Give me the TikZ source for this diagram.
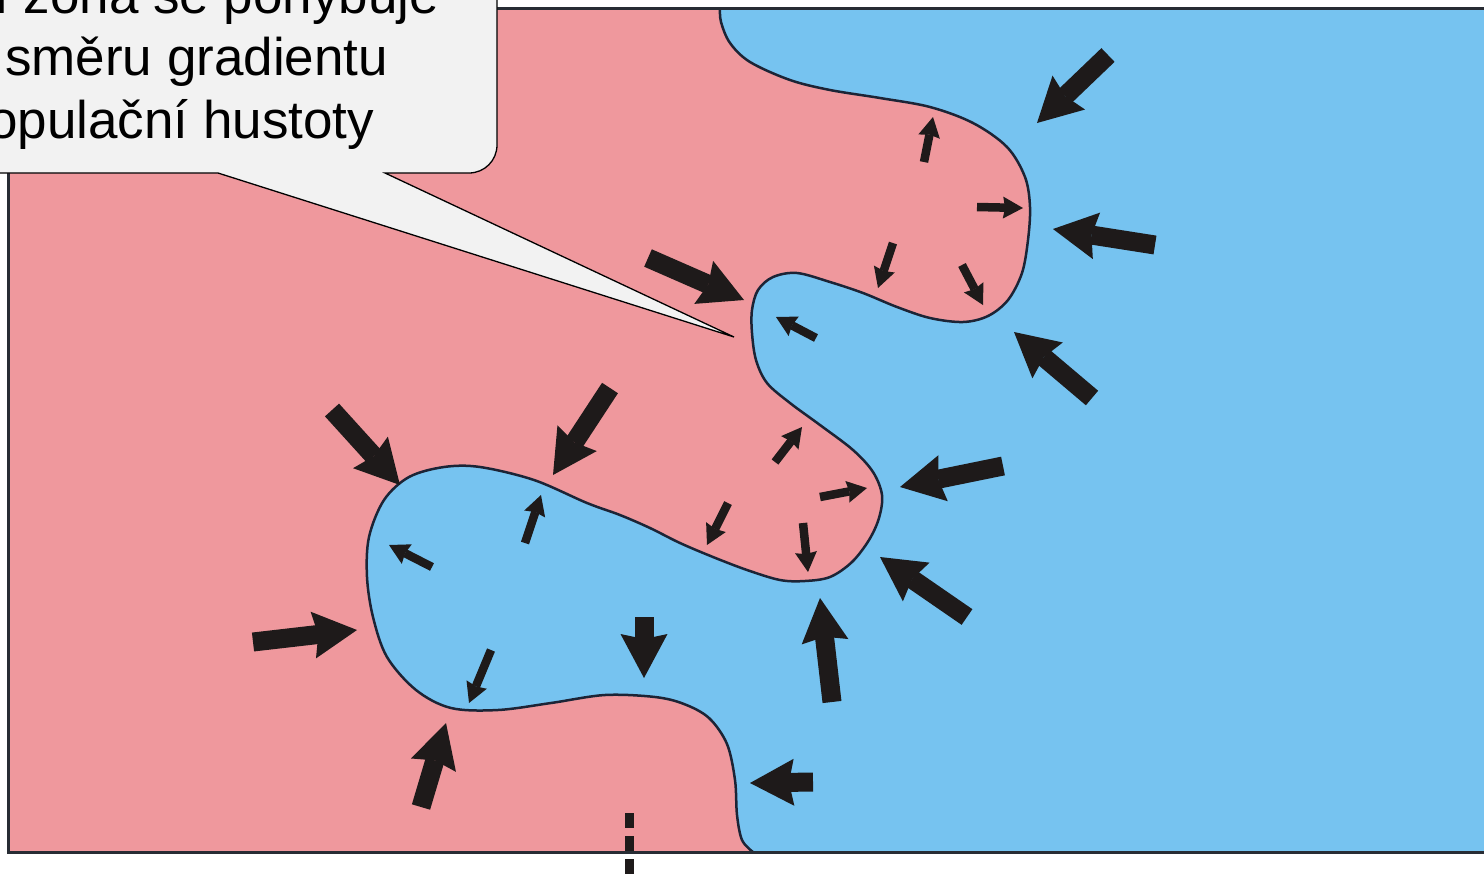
\documentclass[tikz,border=0pt]{standalone}
\usepackage{fontspec}
\setmainfont{Liberation Sans}
\usetikzlibrary{arrows.meta}
\definecolor{zonepink}{RGB}{239,152,157}
\definecolor{zoneblue}{RGB}{118,195,240}
\definecolor{edgeline}{RGB}{28,36,54}
\definecolor{framegray}{RGB}{40,44,52}
\definecolor{arrowblk}{RGB}{30,26,26}
\definecolor{calloutfill}{RGB}{242,242,242}
\newcommand{\calloutfont}{\fontsize{53pt}{63pt}\selectfont}
\begin{document}
\begin{tikzpicture}[x=1pt,y=-1pt,
  bigarrow/.style={draw=arrowblk, line width=19pt, line cap=butt,
    -{Stealth[length=44pt,width=47pt,inset=5pt,line width=0pt]}},
  smallarrow/.style={draw=arrowblk, line width=8.5pt, line cap=butt,
    -{Stealth[length=20pt,width=22pt,inset=2pt,line width=0pt]}},
  zoneedge/.style={draw=edgeline, line width=2.5pt},
  framestyle/.style={draw=framegray, line width=3pt},
  calloutbox/.style={fill=calloutfill, draw=black, line width=1.3pt},
  callouttext/.style={anchor=base west, inner sep=0pt, font=\calloutfont, text=black}]
\useasboundingbox (0,0) rectangle (1484,879);
\clip (0,0) rectangle (1484,879);

% zones
\fill[zonepink] (8,8) rectangle (1490,852);
\def\edgepts{(720,8) (721,22) (730,43) (750,62) (790,80) (830,90) (880,98) (930,107) (973,123) (1007,147) (1025,177) (1030,207) (1028,240) (1022,273) (1008,300) (988,316) (963,322) (930,318) (897,307) (863,293) (830,282) (797,273) (773,277) (758,290) (752,310) (752,333) (756,360) (767,383) (790,403) (820,425) (853,450) (873,472) (882,495) (879,518) (869,540) (852,562) (830,577) (805,581) (780,580) (747,570) (713,557) (680,543) (650,528) (620,515) (587,503) (534,480) (480,467) (444,467) (409,477) (384,500) (369,537) (367,577) (373,617) (387,657) (416,690) (451,708) (498,710) (551,703) (605,695) (655,697) (684,704) (709,718) (727,744) (735,780) (737,815) (742,840) (753,852)}
\fill[zoneblue] plot[smooth,tension=0.55] coordinates {\edgepts} -- (1490,852) -- (1490,8) -- cycle;
\draw[zoneedge] plot[smooth,tension=0.55] coordinates {\edgepts};

% frame
\draw[framestyle] (1490,8) -- (8,8) -- (8,852) -- (1490,852);

% big arrows
\coordinate (a1t) at (1108,55);  \coordinate (a1h) at (1037,123);
\coordinate (a2t) at (1155,245); \coordinate (a2h) at (1053,229);
\coordinate (a3t) at (1092,398); \coordinate (a3h) at (1014,332);
\coordinate (a4t) at (648,258);  \coordinate (a4h) at (744,300);
\coordinate (a14t) at (1003,466); \coordinate (a14h) at (900,487);
\coordinate (a15t) at (967,617); \coordinate (a15h) at (880,557);
\coordinate (a16t) at (832,702); \coordinate (a16h) at (820,598);
\coordinate (a17t) at (332,410); \coordinate (a17h) at (400,485);
\coordinate (a18t) at (610,388); \coordinate (a18h) at (553,475);
\coordinate (a21t) at (253,642); \coordinate (a21h) at (357,630);
\coordinate (a23t) at (644,617); \coordinate (a23h) at (644,678);
\coordinate (a24t) at (421,807); \coordinate (a24h) at (446,723);
\coordinate (a27t) at (813,782); \coordinate (a27h) at (750,783);
\foreach \n in {1,2,3,4,14,15,16,17,18,21,23,24,27}
  \draw[bigarrow] (a\n t) -- (a\n h);

% small arrows
\coordinate (b5t) at (816,338);  \coordinate (b5h) at (776,317);
\coordinate (b6t) at (924,162);  \coordinate (b6h) at (933,117);
\coordinate (b7t) at (977,207);  \coordinate (b7h) at (1023,208);
\coordinate (b8t) at (893,243);  \coordinate (b8h) at (878,288);
\coordinate (b9t) at (962,265);  \coordinate (b9h) at (983,305);
\coordinate (b10t) at (775,462); \coordinate (b10h) at (802,427);
\coordinate (b11t) at (820,497); \coordinate (b11h) at (867,488);
\coordinate (b12t) at (728,503); \coordinate (b12h) at (707,545);
\coordinate (b13t) at (803,523); \coordinate (b13h) at (808,572);
\coordinate (b19t) at (525,543); \coordinate (b19h) at (541,495);
\coordinate (b20t) at (432,567); \coordinate (b20h) at (389,545);
\coordinate (b22t) at (491,650); \coordinate (b22h) at (469,703);
\foreach \n in {5,6,7,8,9,10,11,12,13,19,20,22}
  \draw[smallarrow] (b\n t) -- (b\n h);

% dashed marker at the bottom
\coordinate (d1) at (629,813);
\coordinate (d2) at (629,877);
\draw[arrowblk, line width=9pt, dash pattern=on 15pt off 8pt] (d1) -- (d2);

% callout
\coordinate (tip) at (734,337);
\draw[calloutbox] (-20,-20) -- (497,-20) -- (497,145)
  .. controls (497,160.5) and (484.5,173) .. (469,173)
  -- (385,173) -- (tip) -- (218,173) -- (-20,173) -- cycle;
\node[callouttext] (line1) at (-6,13) {í zóna se pohybuje};
\node[callouttext] (line2) at (5,75) {směru gradientu};
\node[callouttext] (line3) at (-12,138) {opulační hustoty};
\end{tikzpicture}
\end{document}
